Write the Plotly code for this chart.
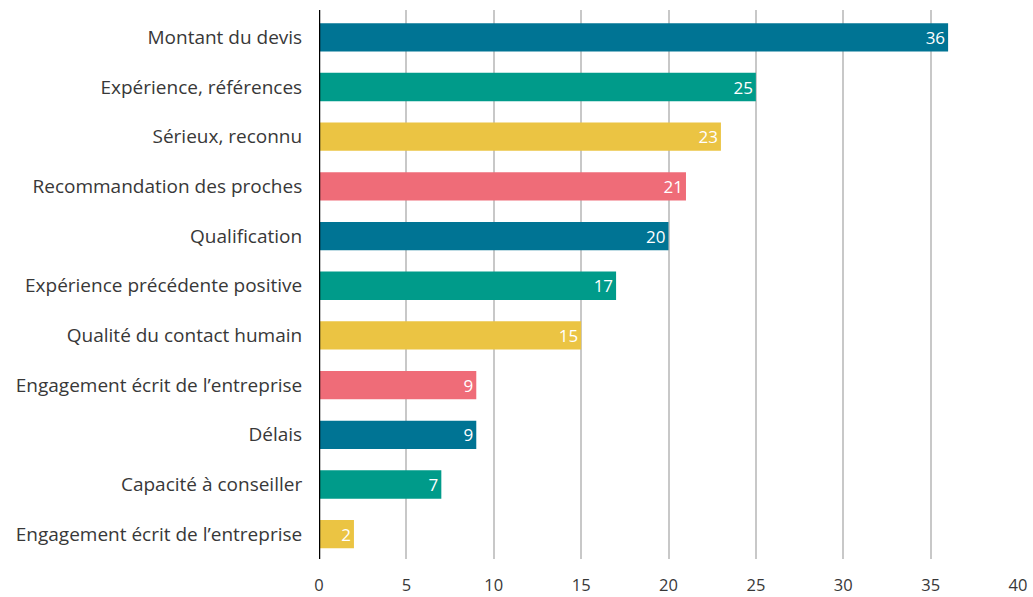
import plotly.graph_objects as go

categories = [
    "Montant du devis",
    "Expérience, références",
    "Sérieux, reconnu",
    "Recommandation des proches",
    "Qualification",
    "Expérience précédente positive",
    "Qualité du contact humain",
    "Engagement écrit de l’entreprise",
    "Délais",
    "Capacité à conseiller",
    "Engagement écrit de l’entreprise",
]
values = [36, 25, 23, 21, 20, 17, 15, 9, 9, 7, 2]
palette = ["#007494", "#009B8A", "#EBC443", "#EF6C78"]
colors = [palette[i % 4] for i in range(len(values))]
positions = list(range(len(categories)))
x_ticks = [0, 5, 10, 15, 20, 25, 30, 35, 40]

font_family = "'Open Sans', Lato, sans-serif"

fig = go.Figure(go.Bar(
    x=values,
    y=positions,
    orientation="h",
    marker=dict(color=colors, line=dict(width=0)),
    text=[str(v) for v in values],
    textposition="inside",
    insidetextanchor="end",
    textangle=0,
    constraintext="none",
    textfont=dict(color="white", size=17, family=font_family),
    width=0.57,
    hoverinfo="x+y",
))

fig.update_layout(
    width=1033, height=597,
    margin=dict(l=319, r=15, t=10, b=38),
    plot_bgcolor="white", paper_bgcolor="white",
    showlegend=False,
    font=dict(family=font_family, size=19, color="#383838"),
    uniformtext=dict(minsize=10, mode="show"),
)
fig.update_xaxes(
    range=[0, 40], tickvals=x_ticks, showgrid=True, gridcolor="#C8C8C8", gridwidth=2,
    zeroline=False, showline=False, ticks="outside", ticklen=11, tickcolor="rgba(0,0,0,0)",
    tickfont=dict(size=16.5, color="#383838"), automargin=False,
)
fig.update_yaxes(
    range=[10.5, -0.55], tickvals=positions, ticktext=categories, showgrid=False,
    zeroline=False, showline=False, ticks="outside", ticklen=12, tickcolor="rgba(0,0,0,0)",
    tickfont=dict(size=19, color="#383838"), automargin=False,
)
fig.add_shape(type="line", xref="x", yref="paper", x0=0, x1=0, y0=0, y1=1,
              line=dict(color="black", width=2.5), layer="above")

fig.write_html(
    "out.html",
    config={"displayModeBar": False},
    post_script="document.body.style.margin='0';document.body.style.overflow='hidden';",
)
